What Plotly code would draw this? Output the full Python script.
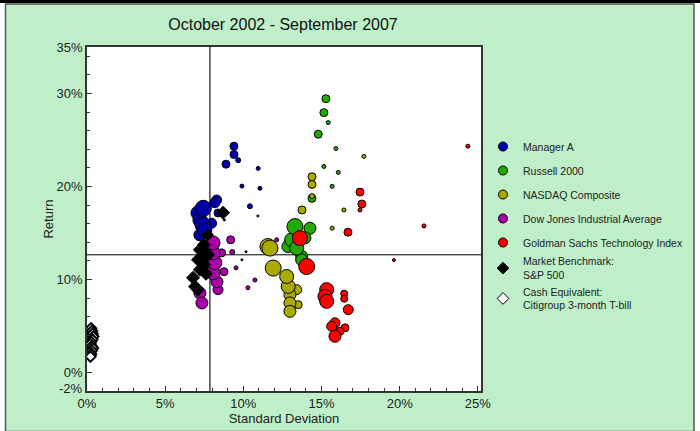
import plotly.graph_objects as go

# ---------------- data (std dev %, return %, bubble size) ----------------
mgr_x = [10.95, 11.06, 9.91, 10.42, 9.67, 8.89, 9.40, 9.40, 8.38, 8.29, 8.18, 7.97, 7.10, 7.22, 7.22, 7.44, 7.42, 7.54]
mgr_y = [21.94, 19.80, 20.04, 17.87, 22.83, 22.40, 23.44, 24.33, 17.15, 18.54, 18.25, 16.04, 17.15, 16.40, 14.79, 17.65, 15.86, 15.33]
mgr_s = [4, 4, 4, 5, 5, 8, 8, 8, 8, 10, 10, 10, 14, 14, 12, 16, 16, 14]

rus_x = [15.43, 15.92, 16.07, 15.68, 15.15, 14.79, 15.15, 15.28, 14.39, 14.26, 13.94, 13.73, 13.73, 12.85, 13.09, 13.41, 13.30]
rus_y = [26.87, 24.08, 21.51, 20.01, 22.15, 25.62, 27.94, 29.44, 18.72, 15.51, 14.47, 12.47, 12.11, 13.54, 14.26, 13.37, 15.68]
rus_s = [4, 4, 4, 4, 4, 8, 8, 8, 8, 12, 12, 12, 12, 12, 14, 14, 16]

nas_x = [17.71, 16.43, 15.68, 14.39, 14.39, 14.39, 13.75, 13.51, 13.41, 12.98, 12.98, 12.98, 12.87, 12.77, 11.91, 11.57, 11.70]
nas_y = [23.23, 17.47, 15.51, 18.97, 21.04, 20.22, 17.47, 7.29, 8.90, 8.36, 7.47, 6.57, 9.25, 10.32, 11.22, 13.54, 13.37]
nas_s = [4, 4, 4, 5, 8, 8, 8, 8, 10, 12, 12, 12, 14, 14, 16, 16, 16]

dow_x = [12.13, 10.74, 10.29, 9.53, 9.29, 9.19, 8.61, 8.76, 8.38, 8.31, 7.22, 7.35, 8.06, 8.18, 8.06, 8.06]
dow_y = [14.26, 9.94, 9.11, 11.25, 12.94, 14.26, 12.86, 10.83, 8.90, 9.75, 8.54, 7.47, 10.72, 11.79, 12.86, 13.93]
dow_s = [4, 4, 4, 4, 5, 8, 8, 8, 10, 12, 12, 12, 14, 14, 14, 14]

gs_x = [24.36, 21.55, 19.63, 17.46, 17.46, 17.58, 16.69, 16.45, 16.45, 16.50, 16.18, 16.71, 15.86, 15.65, 15.86, 15.33, 15.22, 15.33, 13.62, 14.05]
gs_y = [24.33, 15.76, 12.08, 17.47, 19.40, 18.11, 15.08, 8.47, 7.93, 4.79, 4.43, 6.75, 5.33, 4.96, 3.89, 8.90, 8.18, 7.64, 14.44, 11.39]
gs_s = [4, 4, 3, 4, 8, 8, 8, 7, 7, 8, 8, 10, 10, 10, 12, 14, 14, 14, 15, 16]

sp_x = [10.93, 8.78, 10.17, 9.91, 8.70, 7.72, 7.48, 7.22, 7.61, 7.10, 7.48, 7.22, 7.61, 6.78, 6.91, 7.10, 7.74]
sp_y = [16.83, 16.40, 12.97, 12.11, 17.18, 14.79, 13.72, 13.18, 12.54, 12.11, 11.58, 11.04, 10.61, 10.18, 9.22, 8.90, 12.65]
sp_s = [2, 2, 2, 2, 10, 9, 10, 10, 10, 10, 10, 10, 10, 10, 10, 10, 10]

cash_x = [0.26, 0.32, 0.36, 0.40, 0.34, 0.26, 0.22, 0.30, 0.38, 0.30, 0.20, 0.26, 0.22]
cash_y = [4.75, 4.45, 4.15, 3.85, 3.55, 3.30, 3.05, 2.80, 2.60, 2.35, 2.15, 1.95, 1.70]
cash_s = [8, 8, 8, 8, 8, 8, 8, 8, 8, 8, 8, 8, 8]

bench_sd = 7.86    # S&P 500 standard deviation (vertical line)
bench_ret = 12.65  # S&P 500 return (horizontal line)

names = ["Manager A", "Russell 2000", "NASDAQ Composite", "Dow Jones Industrial Average",
         "Goldman Sachs Technology Index", "Market Benchmark:<br>S&P 500",
         "Cash Equivalent:<br>Citigroup 3-month T-bill"]
colors = ["#0000AA", "#22AA00", "#AAAA00", "#AA00AA", "#FF0000", "#000000", "#FFFFFF"]
x_ticks = [0, 5, 10, 15, 20, 25]
y_ticks = [0, 10, 20, 30, 35]

# ---------------- figure ----------------
fig = go.Figure()
series = [(mgr_x, mgr_y, mgr_s), (rus_x, rus_y, rus_s), (nas_x, nas_y, nas_s),
          (dow_x, dow_y, dow_s), (gs_x, gs_y, gs_s), (sp_x, sp_y, sp_s),
          (cash_x, cash_y, cash_s)]
symbols = ["circle"] * 5 + ["diamond", "diamond"]

for i, (xs, ys, ss) in enumerate(series):
    lw = 2 if i == 6 else 1
    fig.add_trace(go.Scatter(
        x=xs, y=ys, mode="markers", showlegend=False, hoverinfo="skip",
        marker=dict(size=ss, color=colors[i], symbol=symbols[i], opacity=1,
                    line=dict(color="black", width=lw))))

# legend entries (constant size markers)
for i, n in enumerate(names):
    fig.add_trace(go.Scatter(
        x=[None], y=[None], mode="markers", name=n, legendgroup=str(i),
        legend="legend" if i < 5 else "legend2",
        marker=dict(size=9, color=colors[i], symbol=symbols[i], opacity=1,
                    line=dict(color="black", width=1))))

# paper coordinate helpers (plot area pixels: x 87..481, y 47..391)
L, R, T, B = 87, 481, 47, 391
def px(p):
    return (p - L) / (R - L)
def py(q):
    return (B - q) / (B - T)

shapes = [
    dict(type="line", xref="x", yref="paper", x0=bench_sd, x1=bench_sd, y0=0, y1=1,
         line=dict(color="#444444", width=1.5), layer="below"),
    dict(type="line", xref="paper", yref="y", x0=0, x1=1, y0=bench_ret, y1=bench_ret,
         line=dict(color="black", width=1), layer="below"),
    dict(type="rect", xref="paper", yref="paper", x0=px(0), x1=px(5), y0=py(431), y1=py(0),
         fillcolor="white", line=dict(width=0)),
    dict(type="rect", xref="paper", yref="paper", x0=px(694), x1=px(700), y0=py(431), y1=py(0),
         fillcolor="white", line=dict(width=0)),
    dict(type="rect", xref="paper", yref="paper", x0=px(5.5), x1=px(694), y0=py(431.5), y1=py(4),
         fillcolor="rgba(0,0,0,0)", line=dict(color="#555555", width=1.5)),
    dict(type="rect", xref="paper", yref="paper", x0=px(0), x1=px(700), y0=py(3), y1=py(0),
         fillcolor="black", line=dict(width=0)),
]

font_fam = "Arial, Liberation Sans, sans-serif"
leg_common = dict(xref="container", xanchor="left", yref="container", yanchor="top",
                  bgcolor="rgba(0,0,0,0)", font=dict(size=10.5, color="#222222"),
                  itemwidth=30)
fig.update_layout(
    width=700, height=431,
    margin=dict(l=L, r=700 - R, t=T, b=431 - B, autoexpand=False),
    paper_bgcolor="#BEEFC8", plot_bgcolor="white",
    font=dict(family=font_fam, size=13, color="#222222"),
    title=dict(text="October 2002 - September 2007", x=283 / 700, xref="container", xanchor="center",
               y=1 - 24 / 431, yref="container", yanchor="middle",
               font=dict(size=16, color="#111111")),
    shapes=shapes,
    showlegend=True,
    legend=dict(x=483 / 700, y=1 - 132 / 431, tracegroupgap=5, **leg_common),
    legend2=dict(x=483 / 700, y=1 - 248 / 431, tracegroupgap=0, **leg_common),
    annotations=[dict(text="-2%", xref="paper", yref="y", x=0, y=-2, xanchor="right",
                      yanchor="middle", xshift=-2, yshift=3, showarrow=False,
                      font=dict(size=13, color="#222222"))],
)
fig.update_xaxes(range=[0, 25.2], tickvals=x_ticks, ticktext=[f"{v}%" for v in x_ticks],
                 ticks="inside", ticklen=5, tickcolor="#333", showgrid=False, zeroline=False,
                 showline=True, linecolor="#333333", linewidth=1.5, mirror=True,
                 minor=dict(dtick=1, ticks="inside", ticklen=3, tickcolor="#333"),
                 title=dict(text="Standard Deviation", standoff=0, font=dict(size=13)))
fig.update_yaxes(range=[-2, 35], tickvals=y_ticks, ticktext=[f"{v}%" for v in y_ticks],
                 ticks="inside", ticklen=5, tickcolor="#333", showgrid=False, zeroline=False,
                 showline=True, linecolor="#333333", linewidth=1.5, mirror=True,
                 minor=dict(dtick=2, tick0=0, ticks="inside", ticklen=3, tickcolor="#333"),
                 title=dict(text="Return", standoff=0, font=dict(size=13)))

fig.write_html("out.html", config={"displayModeBar": False},
               post_script="document.body.style.margin='0';")
